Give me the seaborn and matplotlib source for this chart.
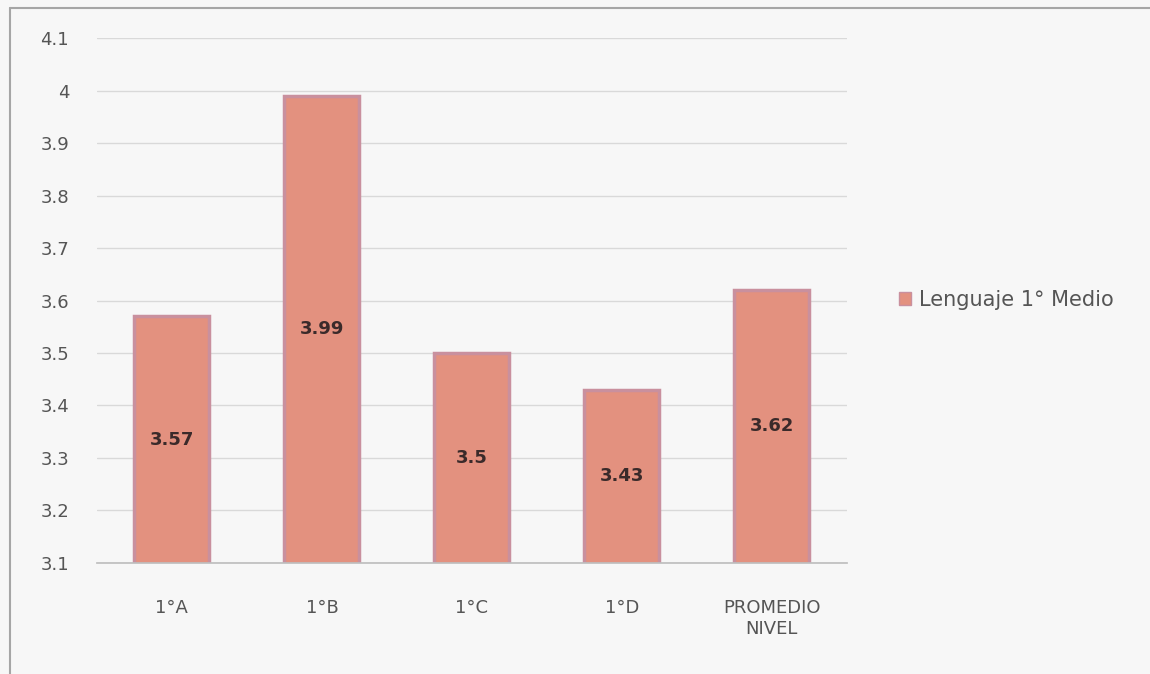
import matplotlib
matplotlib.use("Agg")
import matplotlib.pyplot as plt
from matplotlib.patches import Rectangle
from matplotlib.lines import Line2D
import seaborn as sns
import pandas as pd

categories = ["1°A", "1°B", "1°C", "1°D", "PROMEDIO\nNIVEL"]
values = [3.57, 3.99, 3.50, 3.43, 3.62]
value_labels = ["3.57", "3.99", "3.5", "3.43", "3.62"]
series_name = "Lenguaje 1° Medio"
y_ticks = [3.1, 3.2, 3.3, 3.4, 3.5, 3.6, 3.7, 3.8, 3.9, 4.0, 4.1]
y_tick_labels = ["3.1", "3.2", "3.3", "3.4", "3.5", "3.6", "3.7", "3.8", "3.9", "4", "4.1"]

sns.set_theme(style="white")
plt.rcParams["font.family"] = ["DejaVu Sans"]

bg = "#F7F7F7"
bar_fill = "#E3917F"
bar_edge = "#C9909E"

fig = plt.figure(figsize=(11.5, 6.74), dpi=100, facecolor=bg)
ax = fig.add_axes([0.0843, 0.1647, 0.652, 0.7789])
ax.set_facecolor(bg)

df = pd.DataFrame({"curso": categories, "valor": values})
sns.barplot(data=df, x="curso", y="valor", color=bar_fill, width=0.5,
            edgecolor=bar_edge, linewidth=2.5, saturation=1, ax=ax)

ax.set_ylim(3.1, 4.1)
ax.set_yticks(y_ticks)
ax.set_yticklabels(y_tick_labels, fontsize=13, color="#555555")
ax.tick_params(axis="x", labelsize=13, colors="#555555", length=0, pad=26)
ax.tick_params(axis="y", length=0, pad=20)
ax.set_xlabel("")
ax.set_ylabel("")
ax.yaxis.grid(True, color="#D9D9D9", linewidth=1)
ax.set_axisbelow(True)
for side in ["top", "right", "left"]:
    ax.spines[side].set_visible(False)
ax.spines["bottom"].set_color("#BFBFBF")

ax.bar_label(ax.containers[0], labels=value_labels, label_type="center",
             fontsize=13, fontweight="bold", color="#3A2A2A")

fig.legend(handles=[Rectangle((0, 0), 1, 1, facecolor=bar_fill, edgecolor=bar_edge)],
           labels=[series_name], loc="center left", bbox_to_anchor=(0.765, 0.555),
           frameon=False, fontsize=15, handlelength=0.6, handleheight=0.6,
           handletextpad=0.4, labelcolor="#555555")

# chart frame: top and left edges
frame_kw = dict(transform=fig.transFigure, color="#A6A6A6", linewidth=1.5)
fig.add_artist(Line2D([0.009, 1.0], [0.988, 0.988], **frame_kw))
fig.add_artist(Line2D([0.009, 0.009], [0.0, 0.988], **frame_kw))

fig.savefig("out.png", dpi=100, facecolor=bg)
